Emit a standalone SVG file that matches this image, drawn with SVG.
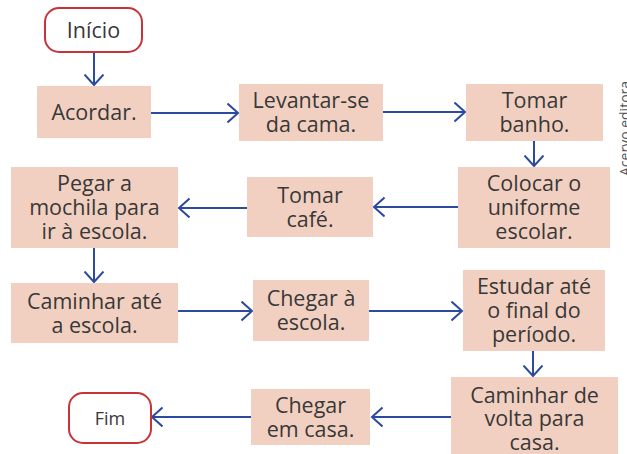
<svg xmlns="http://www.w3.org/2000/svg" width="627" height="454" viewBox="0 0 627 454">
<style>
.box{fill:#f2d0c1}
.term{fill:#fff;stroke:#c8333a;stroke-width:2}
.t{font-family:"Open Sans","Liberation Sans",sans-serif;font-size:21.5px;fill:#383838;text-anchor:middle}
.c{fill:none;stroke:#2c4a9e;stroke-width:2;marker-end:url(#ah)}
.credit{font-family:"Open Sans","Liberation Sans",sans-serif;font-size:14px;fill:#555}
</style>
<defs>
<marker id="ah" markerUnits="userSpaceOnUse" markerWidth="14" markerHeight="22" refX="11" refY="10" orient="auto">
<path d="M0.5,0.5 L11,10 L0.5,19.5" fill="none" stroke="#2c4a9e" stroke-width="2"/>
</marker>
</defs>
<rect width="627" height="454" fill="#fff"/>
<g id="connectors">
<line class="c" x1="94" y1="52" x2="94" y2="85"/>
<line class="c" x1="151" y1="113" x2="238" y2="113"/>
<line class="c" x1="383" y1="112" x2="465" y2="112"/>
<line class="c" x1="534" y1="141" x2="534" y2="166"/>
<line class="c" x1="458" y1="207" x2="374" y2="207"/>
<line class="c" x1="247" y1="208" x2="179" y2="208"/>
<line class="c" x1="94" y1="248" x2="94" y2="282"/>
<line class="c" x1="178" y1="311" x2="252" y2="311"/>
<line class="c" x1="369" y1="311" x2="462" y2="311"/>
<line class="c" x1="533" y1="351" x2="533" y2="376"/>
<line class="c" x1="451" y1="417" x2="372" y2="417"/>
<line class="c" x1="251" y1="417" x2="152" y2="417"/>
</g>
<g id="inicio"><rect class="term" x="45" y="8" width="97" height="44" rx="14"/><text class="t" x="93.5" y="38">Início</text></g>
<g id="acordar"><rect class="box" x="37" y="86" width="114" height="52"/><text class="t" x="94" y="120">Acordar.</text></g>
<g id="levantar"><rect class="box" x="239" y="84" width="144" height="57"/><text class="t" x="311" y="108">Levantar-se</text><text class="t" x="311" y="132">da cama.</text></g>
<g id="banho"><rect class="box" x="466" y="84" width="137" height="57"/><text class="t" x="534.5" y="108">Tomar</text><text class="t" x="534.5" y="132">banho.</text></g>
<g id="uniforme"><rect class="box" x="458" y="167" width="152" height="81"/><text class="t" x="534" y="191">Colocar o</text><text class="t" x="534" y="215">uniforme</text><text class="t" x="534" y="239">escolar.</text></g>
<g id="cafe"><rect class="box" x="247" y="177" width="126" height="60"/><text class="t" x="310" y="203">Tomar</text><text class="t" x="310" y="227">café.</text></g>
<g id="mochila"><rect class="box" x="11" y="167" width="167" height="81"/><text class="t" x="94.5" y="191">Pegar a</text><text class="t" x="94.5" y="215">mochila para</text><text class="t" x="94.5" y="239">ir à escola.</text></g>
<g id="caminhar"><rect class="box" x="11" y="283" width="167" height="60"/><text class="t" x="94.5" y="309">Caminhar até</text><text class="t" x="94.5" y="333">a escola.</text></g>
<g id="chegarescola"><rect class="box" x="253" y="280" width="116" height="61"/><text class="t" x="311" y="306">Chegar à</text><text class="t" x="311" y="330">escola.</text></g>
<g id="estudar"><rect class="box" x="463" y="270" width="142" height="81"/><text class="t" x="534" y="294">Estudar até</text><text class="t" x="534" y="318">o final do</text><text class="t" x="534" y="342">período.</text></g>
<g id="volta"><rect class="box" x="451" y="377" width="167" height="80"/><text class="t" x="534.5" y="403">Caminhar de</text><text class="t" x="534.5" y="426">volta para</text><text class="t" x="534.5" y="450">casa.</text></g>
<g id="chegarcasa"><rect class="box" x="251" y="389" width="119" height="56"/><text class="t" x="310.5" y="413">Chegar</text><text class="t" x="310.5" y="437">em casa.</text></g>
<g id="fim"><rect class="term" x="69" y="393" width="82" height="50" rx="14"/><text class="t" x="110" y="425" style="font-size:18px">Fim</text></g>
<text class="credit" transform="translate(630,176) rotate(-90)">Acervo editora</text>
</svg>
